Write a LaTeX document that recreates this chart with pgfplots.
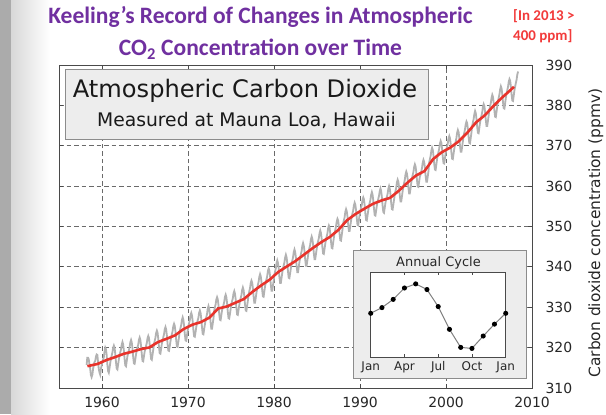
\documentclass[border=0pt]{standalone}
\usepackage{pgfplots}
\pgfplotsset{compat=1.18}
\usepackage{fontspec}
\setmainfont{DejaVu Sans}
\newfontfamily\titlefont{Carlito}
\definecolor{ttl}{HTML}{7030A0}
\definecolor{redtxt}{HTML}{F23A3A}
\definecolor{grayline}{HTML}{B2B2B2}
\definecolor{redline}{HTML}{E8332B}
\definecolor{gridc}{HTML}{6A6A6A}
\definecolor{framec}{HTML}{4A4A4A}
\definecolor{boxfill}{HTML}{EDEDED}
\definecolor{boxdraw}{HTML}{8C8C8C}
\definecolor{shadowA}{HTML}{ABABAB}
\definecolor{shadowB}{HTML}{D8D8D8}
\begin{document}
\begin{tikzpicture}
\begin{scope}[x=1bp,y=1bp]
\fill[white] (0,0) rectangle (606,414);
\fill[shadowA] (0,0) rectangle (11,414);
\shade[left color=shadowB, right color=white] (11,0) rectangle (50,414);
\end{scope}

\begin{axis}[
  at={(59bp,26bp)}, anchor=south west, scale only axis,
  width=473bp, height=323bp,
  xmin=1955, xmax=2010, ymin=310, ymax=390,
  xtick={1960,1970,...,2010}, ytick={310,320,...,390},
  yticklabel pos=right,
  tick align=inside, major tick length=4bp,
  tick style={color=framec, line width=0.8bp},
  axis line style={color=framec, line width=0.9bp},
  grid=major,
  major grid style={color=gridc, line width=0.8bp, dash pattern=on 4.5bp off 3bp},
  /pgf/number format/1000 sep={},
  /pgf/number format/assume math mode=true,
  xticklabel style={font=\fontsize{14}{16}\selectfont, text=black!85, yshift=-6bp},
  yticklabel style={font=\fontsize{14}{16}\selectfont, text=black!85, xshift=10bp},
  ylabel={Carbon dioxide concentration (ppmv)},
  ylabel style={at={(rel axis cs:1.135,0.48)}, anchor=center, font=\fontsize{15.5}{17}\selectfont, text=black!85},
]
\addplot[color=grayline, line width=1.8bp, mark=none] coordinates {
(1958.21,315.7)(1958.29,317.5)(1958.38,317.5)(1958.46,317.1)(1958.54,315.9)(1958.62,314.9)(1958.71,313.2)(1958.79,312.7)(1958.88,313.3)(1958.96,314.7)
(1959.04,315.6)(1959.12,316.4)(1959.21,316.7)(1959.29,317.7)(1959.38,318.3)(1959.46,318.2)(1959.54,316.5)(1959.62,314.8)(1959.71,313.8)(1959.79,313.3)(1959.88,314.8)(1959.96,315.6)
(1960.04,316.4)(1960.12,317.0)(1960.21,317.6)(1960.29,319.0)(1960.38,320.0)(1960.46,319.6)(1960.54,318.2)(1960.62,315.9)(1960.71,314.2)(1960.79,313.8)(1960.88,315.0)(1960.96,316.2)
(1961.04,317.3)(1961.12,318.0)(1961.21,318.8)(1961.29,319.9)(1961.38,320.5)(1961.46,320.0)(1961.54,318.5)(1961.62,316.5)(1961.71,314.8)(1961.79,314.6)(1961.88,315.9)(1961.96,317.1)
(1962.04,318.1)(1962.12,318.8)(1962.21,319.6)(1962.29,320.7)(1962.38,321.4)(1962.46,320.8)(1962.54,319.3)(1962.62,317.3)(1962.71,315.6)(1962.79,315.4)(1962.88,316.7)(1962.96,317.9)
(1963.04,318.6)(1963.12,319.3)(1963.21,320.1)(1963.29,321.3)(1963.38,321.9)(1963.46,321.3)(1963.54,319.9)(1963.62,317.8)(1963.71,316.1)(1963.79,316.0)(1963.88,317.2)(1963.96,318.4)
(1964.04,319.3)(1964.12,320.0)(1964.21,320.7)(1964.29,321.9)(1964.38,322.5)(1964.46,321.9)(1964.54,320.5)(1964.62,318.5)(1964.71,316.7)(1964.79,316.6)(1964.88,317.9)(1964.96,319.0)
(1965.04,319.7)(1965.12,320.4)(1965.21,321.2)(1965.29,322.3)(1965.38,322.9)(1965.46,322.4)(1965.54,320.9)(1965.62,318.9)(1965.71,317.2)(1965.79,317.0)(1965.88,318.3)(1965.96,319.5)
(1966.04,320.8)(1966.12,321.6)(1966.21,322.4)(1966.29,323.6)(1966.38,324.2)(1966.46,323.7)(1966.54,322.3)(1966.62,320.3)(1966.71,318.6)(1966.79,318.5)(1966.88,319.8)(1966.96,321.0)
(1967.04,321.8)(1967.12,322.5)(1967.21,323.3)(1967.29,324.5)(1967.38,325.1)(1967.46,324.5)(1967.54,323.1)(1967.62,321.0)(1967.71,319.3)(1967.79,319.2)(1967.88,320.4)(1967.96,321.6)
(1968.04,322.5)(1968.12,323.3)(1968.21,324.1)(1968.29,325.3)(1968.38,325.9)(1968.46,325.4)(1968.54,324.0)(1968.62,322.0)(1968.71,320.3)(1968.79,320.2)(1968.88,321.5)(1968.96,322.7)
(1969.04,324.1)(1969.12,324.8)(1969.21,325.6)(1969.29,326.8)(1969.38,327.5)(1969.46,326.9)(1969.54,325.5)(1969.62,323.5)(1969.71,321.8)(1969.79,321.7)(1969.88,323.0)(1969.96,324.2)
(1970.04,325.3)(1970.12,326.0)(1970.21,326.8)(1970.29,328.0)(1970.38,328.6)(1970.46,328.0)(1970.54,326.6)(1970.62,324.5)(1970.71,322.8)(1970.79,322.7)(1970.88,323.9)(1970.96,325.1)
(1971.04,326.0)(1971.12,326.7)(1971.21,327.4)(1971.29,328.6)(1971.38,329.2)(1971.46,328.6)(1971.54,327.2)(1971.62,325.2)(1971.71,323.4)(1971.79,323.3)(1971.88,324.6)(1971.96,325.7)
(1972.04,326.7)(1972.12,327.5)(1972.21,328.3)(1972.29,329.6)(1972.38,330.3)(1972.46,329.7)(1972.54,328.4)(1972.62,326.4)(1972.71,324.7)(1972.79,324.7)(1972.88,326.0)(1972.96,327.2)
(1973.04,329.1)(1973.12,329.9)(1973.21,330.7)(1973.29,331.9)(1973.38,332.5)(1973.46,332.0)(1973.54,330.6)(1973.62,328.6)(1973.71,326.9)(1973.79,326.8)(1973.88,328.1)(1973.96,329.3)
(1974.04,329.8)(1974.12,330.5)(1974.21,331.3)(1974.29,332.5)(1974.38,333.1)(1974.46,332.5)(1974.54,331.1)(1974.62,329.0)(1974.71,327.3)(1974.79,327.2)(1974.88,328.4)(1974.96,329.6)
(1975.04,330.7)(1975.12,331.5)(1975.21,332.2)(1975.29,333.4)(1975.38,334.0)(1975.46,333.4)(1975.54,332.0)(1975.62,330.0)(1975.71,328.2)(1975.79,328.1)(1975.88,329.4)(1975.96,330.5)
(1976.04,331.5)(1976.12,332.2)(1976.21,333.0)(1976.29,334.2)(1976.38,334.9)(1976.46,334.3)(1976.54,332.9)(1976.62,330.9)(1976.71,329.2)(1976.79,329.1)(1976.88,330.4)(1976.96,331.6)
(1977.04,333.1)(1977.12,333.9)(1977.21,334.7)(1977.29,336.0)(1977.38,336.6)(1977.46,336.1)(1977.54,334.8)(1977.62,332.8)(1977.71,331.1)(1977.79,331.1)(1977.88,332.4)(1977.96,333.6)
(1978.04,334.7)(1978.12,335.5)(1978.21,336.3)(1978.29,337.5)(1978.38,338.2)(1978.46,337.7)(1978.54,336.3)(1978.62,334.4)(1978.71,332.7)(1978.79,332.6)(1978.88,334.0)(1978.96,335.2)
(1979.04,336.1)(1979.12,336.9)(1979.21,337.7)(1979.29,339.0)(1979.38,339.6)(1979.46,339.1)(1979.54,337.8)(1979.62,335.8)(1979.71,334.1)(1979.79,334.1)(1979.88,335.4)(1979.96,336.6)
(1980.04,338.0)(1980.12,338.8)(1980.21,339.6)(1980.29,340.9)(1980.38,341.6)(1980.46,341.0)(1980.54,339.7)(1980.62,337.7)(1980.71,336.0)(1980.79,336.0)(1980.88,337.3)(1980.96,338.5)
(1981.04,339.6)(1981.12,340.3)(1981.21,341.1)(1981.29,342.3)(1981.38,343.0)(1981.46,342.4)(1981.54,341.0)(1981.62,339.0)(1981.71,337.3)(1981.79,337.2)(1981.88,338.5)(1981.96,339.7)
(1982.04,340.7)(1982.12,341.5)(1982.21,342.3)(1982.29,343.6)(1982.38,344.3)(1982.46,343.7)(1982.54,342.4)(1982.62,340.4)(1982.71,338.7)(1982.79,338.7)(1982.88,340.0)(1982.96,341.2)
(1983.04,342.3)(1983.12,343.1)(1983.21,343.9)(1983.29,345.2)(1983.38,345.9)(1983.46,345.3)(1983.54,344.0)(1983.62,342.0)(1983.71,340.3)(1983.79,340.3)(1983.88,341.6)(1983.96,342.8)
(1984.04,343.9)(1984.12,344.7)(1984.21,345.5)(1984.29,346.8)(1984.38,347.5)(1984.46,346.9)(1984.54,345.6)(1984.62,343.6)(1984.71,341.9)(1984.79,341.9)(1984.88,343.2)(1984.96,344.4)
(1985.04,345.6)(1985.12,346.3)(1985.21,347.1)(1985.29,348.3)(1985.38,349.0)(1985.46,348.4)(1985.54,347.0)(1985.62,345.0)(1985.71,343.3)(1985.79,343.2)(1985.88,344.5)(1985.96,345.7)
(1986.04,346.7)(1986.12,347.5)(1986.21,348.3)(1986.29,349.5)(1986.38,350.2)(1986.46,349.7)(1986.54,348.3)(1986.62,346.4)(1986.71,344.7)(1986.79,344.6)(1986.88,346.0)(1986.96,347.2)
(1987.04,348.3)(1987.12,349.1)(1987.21,350.0)(1987.29,351.2)(1987.38,351.9)(1987.46,351.5)(1987.54,350.1)(1987.62,348.2)(1987.71,346.6)(1987.79,346.5)(1987.88,347.9)(1987.96,349.2)
(1988.04,350.7)(1988.12,351.5)(1988.21,352.3)(1988.29,353.6)(1988.38,354.3)(1988.46,353.8)(1988.54,352.5)(1988.62,350.6)(1988.71,348.9)(1988.79,348.9)(1988.88,350.3)(1988.96,351.5)
(1989.04,352.4)(1989.12,353.2)(1989.21,354.0)(1989.29,355.2)(1989.38,355.9)(1989.46,355.4)(1989.54,354.0)(1989.62,352.1)(1989.71,350.4)(1989.79,350.3)(1989.88,351.7)(1989.96,352.9)
(1990.04,353.8)(1990.12,354.6)(1990.21,355.4)(1990.29,356.6)(1990.38,357.2)(1990.46,356.7)(1990.54,355.3)(1990.62,353.3)(1990.71,351.6)(1990.79,351.5)(1990.88,352.8)(1990.96,354.0)
(1991.04,355.1)(1991.12,355.8)(1991.21,356.6)(1991.29,357.8)(1991.38,358.5)(1991.46,357.9)(1991.54,356.5)(1991.62,354.5)(1991.71,352.8)(1991.79,352.7)(1991.88,354.0)(1991.96,355.2)
(1992.04,356.1)(1992.12,356.8)(1992.21,357.6)(1992.29,358.7)(1992.38,359.4)(1992.46,358.8)(1992.54,357.3)(1992.62,355.3)(1992.71,353.6)(1992.79,353.4)(1992.88,354.7)(1992.96,355.9)
(1993.04,356.6)(1993.12,357.3)(1993.21,358.1)(1993.29,359.3)(1993.38,360.0)(1993.46,359.4)(1993.54,358.0)(1993.62,356.0)(1993.71,354.3)(1993.79,354.2)(1993.88,355.5)(1993.96,356.7)
(1994.04,357.9)(1994.12,358.7)(1994.21,359.6)(1994.29,360.9)(1994.38,361.6)(1994.46,361.1)(1994.54,359.8)(1994.62,357.8)(1994.71,356.2)(1994.79,356.2)(1994.88,357.5)(1994.96,358.8)
(1995.04,359.9)(1995.12,360.7)(1995.21,361.6)(1995.29,362.9)(1995.38,363.6)(1995.46,363.1)(1995.54,361.8)(1995.62,359.8)(1995.71,358.2)(1995.79,358.2)(1995.88,359.5)(1995.96,360.8)
(1996.04,361.9)(1996.12,362.7)(1996.21,363.5)(1996.29,364.7)(1996.38,365.4)(1996.46,364.9)(1996.54,363.5)(1996.62,361.6)(1996.71,359.9)(1996.79,359.8)(1996.88,361.2)(1996.96,362.4)
(1997.04,362.8)(1997.12,363.6)(1997.21,364.5)(1997.29,365.8)(1997.38,366.5)(1997.46,366.0)(1997.54,364.7)(1997.62,362.7)(1997.71,361.1)(1997.79,361.1)(1997.88,362.4)(1997.96,363.7)
(1998.04,365.8)(1998.12,366.6)(1998.21,367.5)(1998.29,368.7)(1998.38,369.5)(1998.46,369.0)(1998.54,367.6)(1998.62,365.7)(1998.71,364.1)(1998.79,364.0)(1998.88,365.4)(1998.96,366.7)
(1999.04,367.7)(1999.12,368.4)(1999.21,369.3)(1999.29,370.5)(1999.38,371.2)(1999.46,370.7)(1999.54,369.3)(1999.62,367.3)(1999.71,365.7)(1999.79,365.6)(1999.88,366.9)(1999.96,368.2)
(2000.04,369.0)(2000.12,369.8)(2000.21,370.6)(2000.29,371.8)(2000.38,372.4)(2000.46,371.9)(2000.54,370.5)(2000.62,368.5)(2000.71,366.8)(2000.79,366.7)(2000.88,368.0)(2000.96,369.2)
(2001.04,370.2)(2001.12,371.0)(2001.21,371.9)(2001.29,373.2)(2001.38,373.9)(2001.46,373.4)(2001.54,372.1)(2001.62,370.1)(2001.71,368.5)(2001.79,368.5)(2001.88,369.8)(2001.96,371.1)
(2002.04,372.4)(2002.12,373.2)(2002.21,374.1)(2002.29,375.3)(2002.38,376.0)(2002.46,375.6)(2002.54,374.2)(2002.62,372.3)(2002.71,370.7)(2002.79,370.6)(2002.88,372.0)(2002.96,373.3)
(2003.04,374.9)(2003.12,375.7)(2003.21,376.6)(2003.29,377.8)(2003.38,378.6)(2003.46,378.1)(2003.54,376.7)(2003.62,374.8)(2003.71,373.2)(2003.79,373.1)(2003.88,374.5)(2003.96,375.8)
(2004.04,376.6)(2004.12,377.4)(2004.21,378.3)(2004.29,379.6)(2004.38,380.3)(2004.46,379.8)(2004.54,378.5)(2004.62,376.5)(2004.71,374.9)(2004.79,374.9)(2004.88,376.2)(2004.96,377.5)
(2005.04,378.9)(2005.12,379.7)(2005.21,380.6)(2005.29,381.8)(2005.38,382.6)(2005.46,382.1)(2005.54,380.7)(2005.62,378.8)(2005.71,377.2)(2005.79,377.1)(2005.88,378.5)(2005.96,379.8)
(2006.04,381.0)(2006.12,381.8)(2006.21,382.7)(2006.29,383.9)(2006.38,384.7)(2006.46,384.2)(2006.54,382.8)(2006.62,380.9)(2006.71,379.3)(2006.79,379.2)(2006.88,380.6)(2006.96,381.9)
(2007.04,382.9)(2007.12,383.7)(2007.21,384.6)(2007.29,385.8)(2007.38,386.5)(2007.46,386.1)(2007.54,384.7)(2007.62,382.8)(2007.71,381.2)(2007.79,381.1)(2007.88,382.5)(2007.96,383.8)
(2008.04,384.7)(2008.12,385.5)(2008.21,386.4)(2008.29,387.6)(2008.38,388.4)
};
\addplot[color=redline, line width=2.6bp, mark=none, line join=round] coordinates {
(1958.30,315.4)(1959.5,315.97)(1960.5,316.91)(1961.5,317.64)(1962.5,318.45)(1963.5,318.99)(1964.5,319.62)(1965.5,320.04)(1966.5,321.37)(1967.5,322.18)(1968.5,323.05)(1969.5,324.62)(1970.5,325.68)(1971.5,326.32)(1972.5,327.45)(1973.5,329.68)(1974.5,330.18)(1975.5,331.11)(1976.5,332.04)(1977.5,333.83)(1978.5,335.40)(1979.5,336.84)(1980.5,338.75)(1981.5,340.11)(1982.5,341.45)(1983.5,343.05)(1984.5,344.65)(1985.5,346.12)(1986.5,347.42)(1987.5,349.19)(1988.5,351.57)(1989.5,353.12)(1990.5,354.39)(1991.5,355.61)(1992.5,356.45)(1993.5,357.10)(1994.5,358.83)(1995.5,360.82)(1996.5,362.61)(1997.5,363.73)(1998.5,366.70)(1999.5,368.38)(2000.5,369.55)(2001.5,371.14)(2002.5,373.28)(2003.5,375.80)(2004.5,377.52)(2005.5,379.80)(2006.5,381.90)(2007.5,383.79)(2007.9,384.6)
};
\end{axis}

\begin{scope}[x=1bp,y=1bp]
% title box inside the plot
\draw[fill=boxfill, draw=boxdraw, line width=0.9bp] (65,275) rectangle (428,345);
\node[font=\fontsize{24.2}{27}\selectfont, text=black!90] at (245,323) {Atmospheric Carbon Dioxide};
\node[font=\fontsize{18.8}{21}\selectfont, text=black!90] at (246.5,294) {Measured at Mauna Loa, Hawaii};
% inset box
\draw[fill=boxfill, draw=boxdraw, line width=0.9bp] (353,36) rectangle (526,164);
\node[font=\fontsize{13}{15}\selectfont, text=black!85] at (438.5,151) {Annual Cycle};
\end{scope}

\begin{axis}[
  at={(370.7bp,56.7bp)}, anchor=south west, scale only axis,
  width=135bp, height=85bp,
  xmin=0, xmax=12, ymin=-4.26, ymax=3.97,
  xtick={0,3,6,9,12}, xticklabels={Jan,Apr,Jul,Oct,Jan},
  ytick=\empty,
  tick align=inside, major tick length=3bp,
  tick style={color=framec, line width=0.7bp},
  axis line style={color=framec, line width=0.8bp},
  axis background/.style={fill=white},
  xticklabel style={font=\fontsize{12}{14}\selectfont, text=black!85, yshift=-1bp},
  clip=false,
]
\addplot[color=gray, line width=1bp, mark=*, mark size=2bp, mark options={fill=black, draw=black}] coordinates {
(0,0)(1,0.55)(2,1.35)(3,2.45)(4,2.85)(5,2.3)(6,0.65)(7,-1.55)(8,-3.3)(9,-3.4)(10,-2.2)(11,-1.05)(12,0)
};
\end{axis}

\begin{scope}[x=1bp,y=1bp]
% slide title
\node[font=\titlefont\bfseries\fontsize{23.6}{27}\selectfont, text=ttl] at (260.5,397.5) {Keeling’s Record of Changes in Atmospheric};
\node[font=\titlefont\bfseries\fontsize{23.6}{27}\selectfont, text=ttl] at (260.5,364.5) {CO\textsubscript{2} Concentration over Time};
\node[anchor=west, font=\titlefont\bfseries\fontsize{15}{18}\selectfont, text=redtxt, inner sep=0pt] at (513,397.5) {[In 2013 >};
\node[anchor=west, font=\titlefont\bfseries\fontsize{15}{18}\selectfont, text=redtxt, inner sep=0pt] at (513,377.3) {400 ppm]};
\pgfresetboundingbox
\path (0,0) rectangle (606,414);
\end{scope}
\end{tikzpicture}
\end{document}
